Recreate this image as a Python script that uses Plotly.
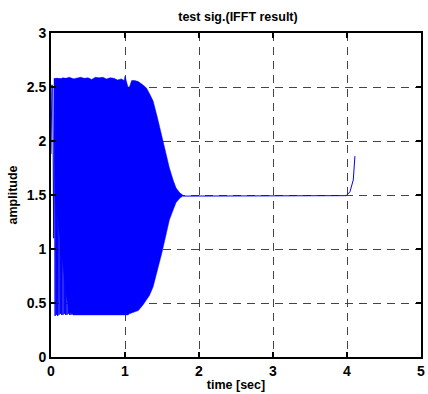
import plotly.graph_objects as go

# early, resolvable oscillations (time [sec], amplitude)
early_t = [0.000, 0.012, 0.024, 0.036, 0.046, 0.056, 0.064, 0.072, 0.080, 0.090, 0.098,
           0.108, 0.116, 0.126, 0.134, 0.144, 0.152, 0.162, 0.170, 0.180, 0.188, 0.198,
           0.206, 0.216, 0.224, 0.234, 0.242, 0.252, 0.260, 0.270, 0.278, 0.288, 0.296]
early_v = [1.88, 2.52, 2.50, 1.10, 2.58, 0.38, 2.58, 0.39, 2.58, 0.38, 2.58,
           0.39, 2.58, 0.40, 2.58, 0.39, 2.58, 0.39, 2.58, 0.40, 2.58, 0.39,
           2.58, 0.39, 2.58, 0.40, 2.58, 0.39, 2.58, 0.39, 2.58, 0.40, 2.58]

# envelope of the dense oscillation
env_t = [0.06, 0.09, 0.12, 0.16, 0.20, 0.25, 0.30, 0.35, 0.40, 0.45, 0.50, 0.55, 0.60,
         0.65, 0.70, 0.75, 0.80, 0.85, 0.90, 0.95, 0.99, 1.00, 1.02, 1.04, 1.06, 1.08,
         1.09, 1.13, 1.18, 1.24, 1.29, 1.33, 1.38, 1.44, 1.50, 1.56, 1.60, 1.65, 1.69,
         1.74, 1.78]
env_hi = [2.58, 2.58, 2.57, 2.585, 2.58, 2.59, 2.575, 2.585, 2.59, 2.58, 2.585, 2.57, 2.59,
          2.585, 2.59, 2.575, 2.585, 2.58, 2.565, 2.575, 2.56, 2.60, 2.56, 2.50, 2.50, 2.54,
          2.56, 2.56, 2.55, 2.52, 2.49, 2.44, 2.37, 2.21, 2.04, 1.855, 1.75, 1.64, 1.565,
          1.52, 1.50]
env_lo = [1.50, 1.30, 1.10, 0.85, 0.60, 0.42, 0.39, 0.39, 0.39, 0.395, 0.395, 0.39, 0.39,
          0.395, 0.39, 0.39, 0.395, 0.39, 0.39, 0.39, 0.39, 0.39, 0.39, 0.39, 0.40, 0.405,
          0.41, 0.42, 0.43, 0.48, 0.53, 0.57, 0.65, 0.80, 0.97, 1.15, 1.27, 1.36, 1.43,
          1.47, 1.49]

# settled part and final rise
tail_t = [1.78, 3.99, 4.04, 4.085, 4.107]
tail_v = [1.49, 1.494, 1.53, 1.64, 1.86]

x_ticks = [0, 1, 2, 3, 4, 5]
y_ticks = [0, 0.5, 1, 1.5, 2, 2.5, 3]
y_tick_text = ["0", "0.5", "1", "1.5", "2", "2.5", "3"]

BLUE = "#0000ff"
FONT = "Liberation Sans, Arial, sans-serif"

fig = go.Figure()
fig.add_trace(go.Scatter(x=env_t, y=env_lo, mode="lines",
                         line=dict(color=BLUE, width=0.5), hoverinfo="skip"))
fig.add_trace(go.Scatter(x=env_t, y=env_hi, mode="lines", fill="tonexty",
                         fillcolor=BLUE, line=dict(color=BLUE, width=0.5)))
fig.add_trace(go.Scatter(x=early_t, y=early_v, mode="lines",
                         line=dict(color=BLUE, width=1)))
fig.add_trace(go.Scatter(x=tail_t, y=tail_v, mode="lines",
                         line=dict(color=BLUE, width=1)))

axis_common = dict(
    showline=True, mirror="ticks", linecolor="black", linewidth=2,
    ticks="inside", ticklen=5, tickwidth=1.5, tickcolor="black",
    showgrid=True, gridcolor="#444444", gridwidth=1, griddash="8px,6px",
    zeroline=False,
    tickfont=dict(family=FONT, size=14, color="black", weight="bold"),
)

fig.update_layout(
    width=428, height=394,
    margin=dict(l=51, r=3, t=33, b=37),
    paper_bgcolor="white", plot_bgcolor="white",
    showlegend=False,
    title=dict(text="test sig.(IFFT result)", x=0.556, xanchor="center",
               y=1 - 17 / 394, yanchor="middle",
               font=dict(family=FONT, size=12.5, color="black", weight="bold")),
    xaxis=dict(range=[0, 5], tickvals=x_ticks, **axis_common,
               title=dict(text="time [sec]", standoff=2,
                          font=dict(family=FONT, size=12.5, color="black", weight="bold"))),
    yaxis=dict(range=[0, 3], tickvals=y_ticks, ticktext=y_tick_text, **axis_common,
               title=dict(text="amplitude", standoff=6,
                          font=dict(family=FONT, size=12.5, color="black", weight="bold"))),
)

fig.write_html("out.html")
